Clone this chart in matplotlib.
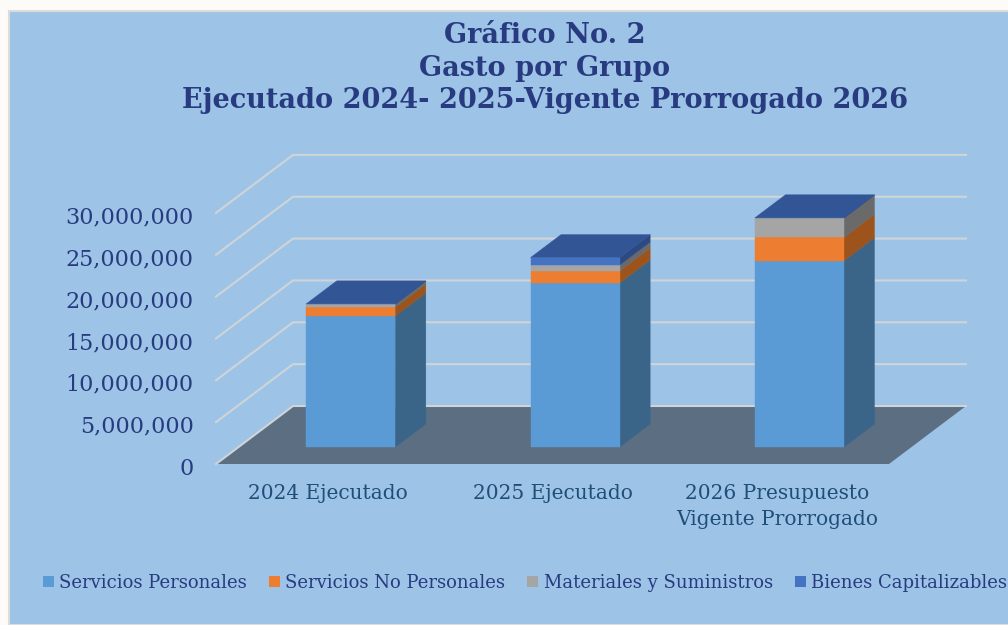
import matplotlib
matplotlib.use("Agg")
import matplotlib.pyplot as plt
from matplotlib.patches import Rectangle
from matplotlib.transforms import ScaledTranslation

W, H = 1008, 625

categories = ["2024 Ejecutado", "2025 Ejecutado", "2026 Presupuesto\nVigente Prorrogado"]
series_names = ["Servicios Personales", "Servicios No Personales",
                "Materiales y Suministros", "Bienes Capitalizables"]
servicios_personales = [15650000, 19600000, 22250000]
servicios_no_personales = [1040000, 1430000, 2800000]
materiales = [390000, 700000, 2300000]
bienes = [20000, 900000, 30000]
y_ticks = [0, 5000000, 10000000, 15000000, 20000000, 25000000, 30000000]

front_colors = ["#5b9bd5", "#ed7d31", "#a5a5a5", "#4472c4"]
side_colors = ["#3a6589", "#9c541c", "#6a6a6a", "#2c4a82"]
top_color = "#325596"
grid_color = "#cfd4d8"
floor_color = "#5b6e82"
panel_color = "#9dc3e6"
title_color = "#283b80"
font = "DejaVu Serif"

fig = plt.figure(figsize=(W / 100, H / 100), dpi=100, facecolor="#fdfbf8")

# panel de fondo
fig.add_artist(Rectangle((9 / W, 0), 1, 1 - 11 / H, transform=fig.transFigure,
                         fc=panel_color, ec="#dcdcd8", lw=1.5, zorder=-1))

# ejes: plano frontal, de 216 a 889 px y de 464 a 155 px
ax = fig.add_axes([216 / W, 1 - 464 / H, 673 / W, 309 / H])
ax.set_xlim(-0.5, 2.5)
px_per_unit = 8.37e-6
ax.set_ylim(0, 309 / px_per_unit)
ax.patch.set_alpha(0)
for s in ax.spines.values():
    s.set_visible(False)

# desplazamiento oblicuo para profundidad 1
depth_dx = 77 / (673 / 3)
depth_dy = 58 / px_per_unit


def project(x, v, d):
    return x + d * depth_dx, v + d * depth_dy


def face(corners, **kw):
    pts = [project(*c) for c in corners]
    return ax.fill([p[0] for p in pts], [p[1] for p in pts], clip_on=False, **kw)


# piso
face([(-0.5, 0, 0), (2.5, 0, 0), (2.5, 0, 1), (-0.5, 0, 1)], fc=floor_color, ec="none", zorder=2)

# cuadricula
for t in y_ticks:
    pts = [project(-0.5, t, 0), project(-0.5, t, 1), project(2.5, t, 1)]
    ax.plot([p[0] for p in pts], [p[1] for p in pts], color=grid_color, lw=1.5,
            clip_on=False, zorder=1 if t else 3, solid_joinstyle="miter")

# barras apiladas
bar_w = 0.397
d0, d1 = 0.293, 0.69
stack = [servicios_personales, servicios_no_personales, materiales, bienes]
for i in range(len(categories)):
    x0, x1 = i - bar_w / 2, i + bar_w / 2
    base = 0
    for k, vals in enumerate(stack):
        top = base + vals[i]
        face([(x1, base, d0), (x1, base, d1), (x1, top, d1), (x1, top, d0)],
             fc=side_colors[k], ec=side_colors[k], lw=0.3, zorder=4 + k * 0.1)
        face([(x0, base, d0), (x1, base, d0), (x1, top, d0), (x0, top, d0)],
             fc=front_colors[k], ec=front_colors[k], lw=0.3, zorder=5 + k * 0.1)
        base = top
    face([(x0, base, d0), (x1, base, d0), (x1, base, d1), (x0, base, d1)],
         fc=top_color, ec=top_color, lw=0.3, zorder=6)

# ejes y etiquetas
ax.set_yticks(y_ticks)
ax.set_yticklabels([f"{t:,}" for t in y_ticks], fontfamily=font, fontsize=16, color=title_color)
ax.set_xticks(range(len(categories)))
ax.set_xticklabels(categories, fontfamily=font, fontsize=14.5, color="#1f4e79", linespacing=1.45)
ax.tick_params(axis="y", length=0, pad=16)
ax.tick_params(axis="x", length=0, pad=14.5)
shift = ScaledTranslation(0, -1.5 / 72, fig.dpi_scale_trans)
for label in ax.get_yticklabels():
    label.set_transform(label.get_transform() + shift)

# leyenda
handles = [Rectangle((0, 0), 1, 1, fc=c, ec="none") for c in front_colors]
leg = fig.legend(handles, series_names, ncol=4, frameon=False, loc="center left",
                 bbox_to_anchor=(43 / W, 1 - 583 / H), handlelength=0.6, handleheight=0.6,
                 handletextpad=0.3, columnspacing=1.22, borderpad=0, borderaxespad=0,
                 prop={"family": font, "size": 13}, labelcolor=title_color)

fig.text(545 / W, 1 - 68 / H, "Gráfico No. 2\nGasto por Grupo\nEjecutado 2024- 2025-Vigente Prorrogado 2026",
         ha="center", va="center", fontfamily=font, fontweight="bold", fontsize=19.5,
         color=title_color, linespacing=1.27)

fig.savefig("out.png", dpi=100)
